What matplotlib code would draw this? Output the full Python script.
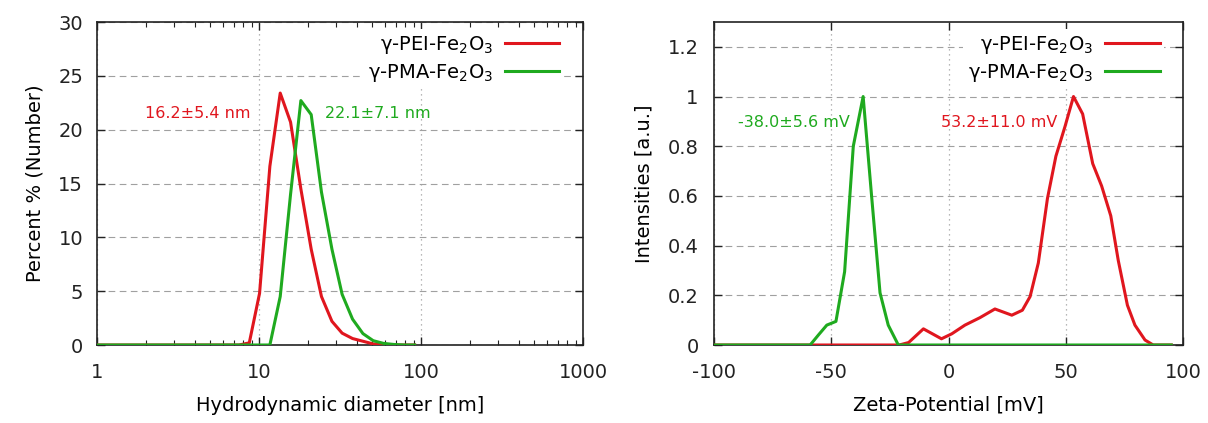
import matplotlib
matplotlib.use("Agg")
import matplotlib.pyplot as plt
from matplotlib.ticker import LogLocator, NullFormatter, FixedLocator

plt.rcParams['font.family'] = ['DejaVu Sans']
plt.rcParams['mathtext.default'] = 'regular'
plt.rcParams['axes.unicode_minus'] = False

# Size distribution (number-weighted), log-spaced size bins in nm
size_nm = [0.955, 7.53, 8.71, 10.08, 11.67, 13.52, 15.66, 18.13, 21.0, 24.3,
           28.2, 32.6, 37.8, 43.8, 50.7, 58.7, 68.0, 78.8, 91.3]
pei_number = [0, 0, 0.2, 4.8, 16.6, 23.4, 20.7, 14.5, 8.9, 4.5,
              2.2, 1.1, 0.6, 0.35, 0.1, 0.03, 0, 0, 0]
pma_number = [0, 0, 0, 0, 0, 4.5, 14.0, 22.7, 21.4, 14.2,
              8.9, 4.7, 2.4, 1.06, 0.4, 0.15, 0.05, 0, 0]

# Zeta-potential distributions
pei_zeta_mv = [-100, -21, -17, -10.7, -3, 1.4, 7, 13.4, 19.8, 27, 31.5, 34.8,
               38.3, 42.2, 45.8, 49.7, 53.3, 57.2, 61.5, 65.3, 69.2, 72.4,
               76.3, 79.5, 83.8, 87.3, 95]
pei_zeta_int = [0, 0, 0.01, 0.065, 0.025, 0.045, 0.08, 0.11, 0.145, 0.12, 0.14,
                0.195, 0.33, 0.59, 0.76, 0.88, 1.0, 0.93, 0.73, 0.64, 0.52, 0.34,
                0.16, 0.08, 0.02, 0, 0]
pma_zeta_mv = [-100, -59, -55.5, -51.9, -48, -44.3, -40.6, -36.4, -32.8, -29.2,
               -25.7, -21.4, 95]
pma_zeta_int = [0, 0, 0.04, 0.08, 0.095, 0.295, 0.80, 1.0, 0.6, 0.21,
                0.08, 0, 0]

series_labels = ['γ-PEI-Fe$_2$O$_3$', 'γ-PMA-Fe$_2$O$_3$']
size_notes = ['16.2±5.4 nm', '22.1±7.1 nm']
zeta_notes = ['53.2±11.0 mV', '-38.0±5.6 mV']

RED = '#e0161e'
GREEN = '#1faa1f'
GRID = '#a0a0a0'

fig = plt.figure(figsize=(12.08, 4.23), dpi=100)
W, H = 1208, 423
ax1 = fig.add_axes([97 / W, (H - 345) / H, (583 - 97) / W, 323 / H])
ax2 = fig.add_axes([714 / W, (H - 345) / H, (1183 - 714) / W, 323 / H])

for ax in (ax1, ax2):
    for s in ax.spines.values():
        s.set_linewidth(1.2)
        s.set_color('#222222')
    ax.tick_params(which='both', direction='in', top=True, right=True,
                   labelsize=14, colors='#222222', labelcolor='#222222')
    ax.tick_params(which='major', length=6, width=1)
    ax.tick_params(which='minor', length=3.5, width=0.8)
    ax.tick_params(axis='x', pad=13)
    ax.tick_params(axis='y', pad=10)

# --- size distribution ---
ax1.plot(size_nm, pei_number, color=RED, lw=2.2, label=series_labels[0], zorder=3)
ax1.plot(size_nm, pma_number, color=GREEN, lw=2.2, label=series_labels[1], zorder=3)
ax1.set_xscale('log')
ax1.set_xlim(1, 1000)
ax1.set_ylim(0, 30)
ax1.xaxis.set_major_locator(FixedLocator([1, 10, 100, 1000]))
ax1.set_xticklabels(['1', '10', '100', '1000'])
ax1.xaxis.set_minor_locator(LogLocator(base=10, subs=range(2, 10)))
ax1.xaxis.set_minor_formatter(NullFormatter())
ax1.set_yticks([0, 5, 10, 15, 20, 25, 30])
ax1.grid(axis='y', which='major', color=GRID, lw=0.8, ls=(0, (6, 4)))
ax1.grid(axis='x', which='major', color=GRID, lw=0.9, ls=(0, (1, 3)))
ax1.set_xlabel('Hydrodynamic diameter [nm]', fontsize=14, labelpad=10)
ax1.set_ylabel('Percent % (Number)', fontsize=14, labelpad=10)
ax1.text(4.2, 21.5, size_notes[0], color=RED, fontsize=11.5,
         ha='center', va='center')
ax1.text(54.0, 21.5, size_notes[1], color=GREEN, fontsize=11.5,
         ha='center', va='center')

# --- zeta potential ---
ax2.plot(pei_zeta_mv, pei_zeta_int, color=RED, lw=2.2, label=series_labels[0], zorder=3)
ax2.plot(pma_zeta_mv, pma_zeta_int, color=GREEN, lw=2.2, label=series_labels[1], zorder=3)
ax2.set_xlim(-100, 100)
ax2.set_ylim(0, 1.3)
ax2.set_xticks([-100, -50, 0, 50, 100])
ax2.set_yticks([0, 0.2, 0.4, 0.6, 0.8, 1.0, 1.2])
ax2.set_yticklabels(['0', '0.2', '0.4', '0.6', '0.8', '1', '1.2'])
ax2.tick_params(axis='y', pad=11)
ax2.grid(axis='y', which='major', color=GRID, lw=0.8, ls=(0, (6, 4)))
ax2.grid(axis='x', which='major', color=GRID, lw=0.9, ls=(0, (1, 3)))
ax2.set_xlabel('Zeta-Potential [mV]', fontsize=14, labelpad=10)
ax2.set_ylabel('Intensities [a.u.]', fontsize=14, labelpad=10)
ax2.text(21.7, 0.895, zeta_notes[0], color=RED, fontsize=11.5,
         ha='center', va='center')
ax2.text(-65.9, 0.895, zeta_notes[1], color=GREEN, fontsize=11.5,
         ha='center', va='center')

for ax in (ax1, ax2):
    leg = ax.legend(loc='upper right', bbox_to_anchor=(0.975, 1.0),
                    frameon=True, fontsize=14, handlelength=2.8,
                    handletextpad=0.6, labelspacing=0.3, markerfirst=False,
                    borderpad=0.25, borderaxespad=0.35)
    fr = leg.get_frame()
    fr.set_facecolor('white')
    fr.set_edgecolor('none')
    fr.set_alpha(1)
    for t in leg.get_texts():
        t.set_ha('right')
    leg.set_zorder(5)

fig.savefig('out.png', dpi=100)
